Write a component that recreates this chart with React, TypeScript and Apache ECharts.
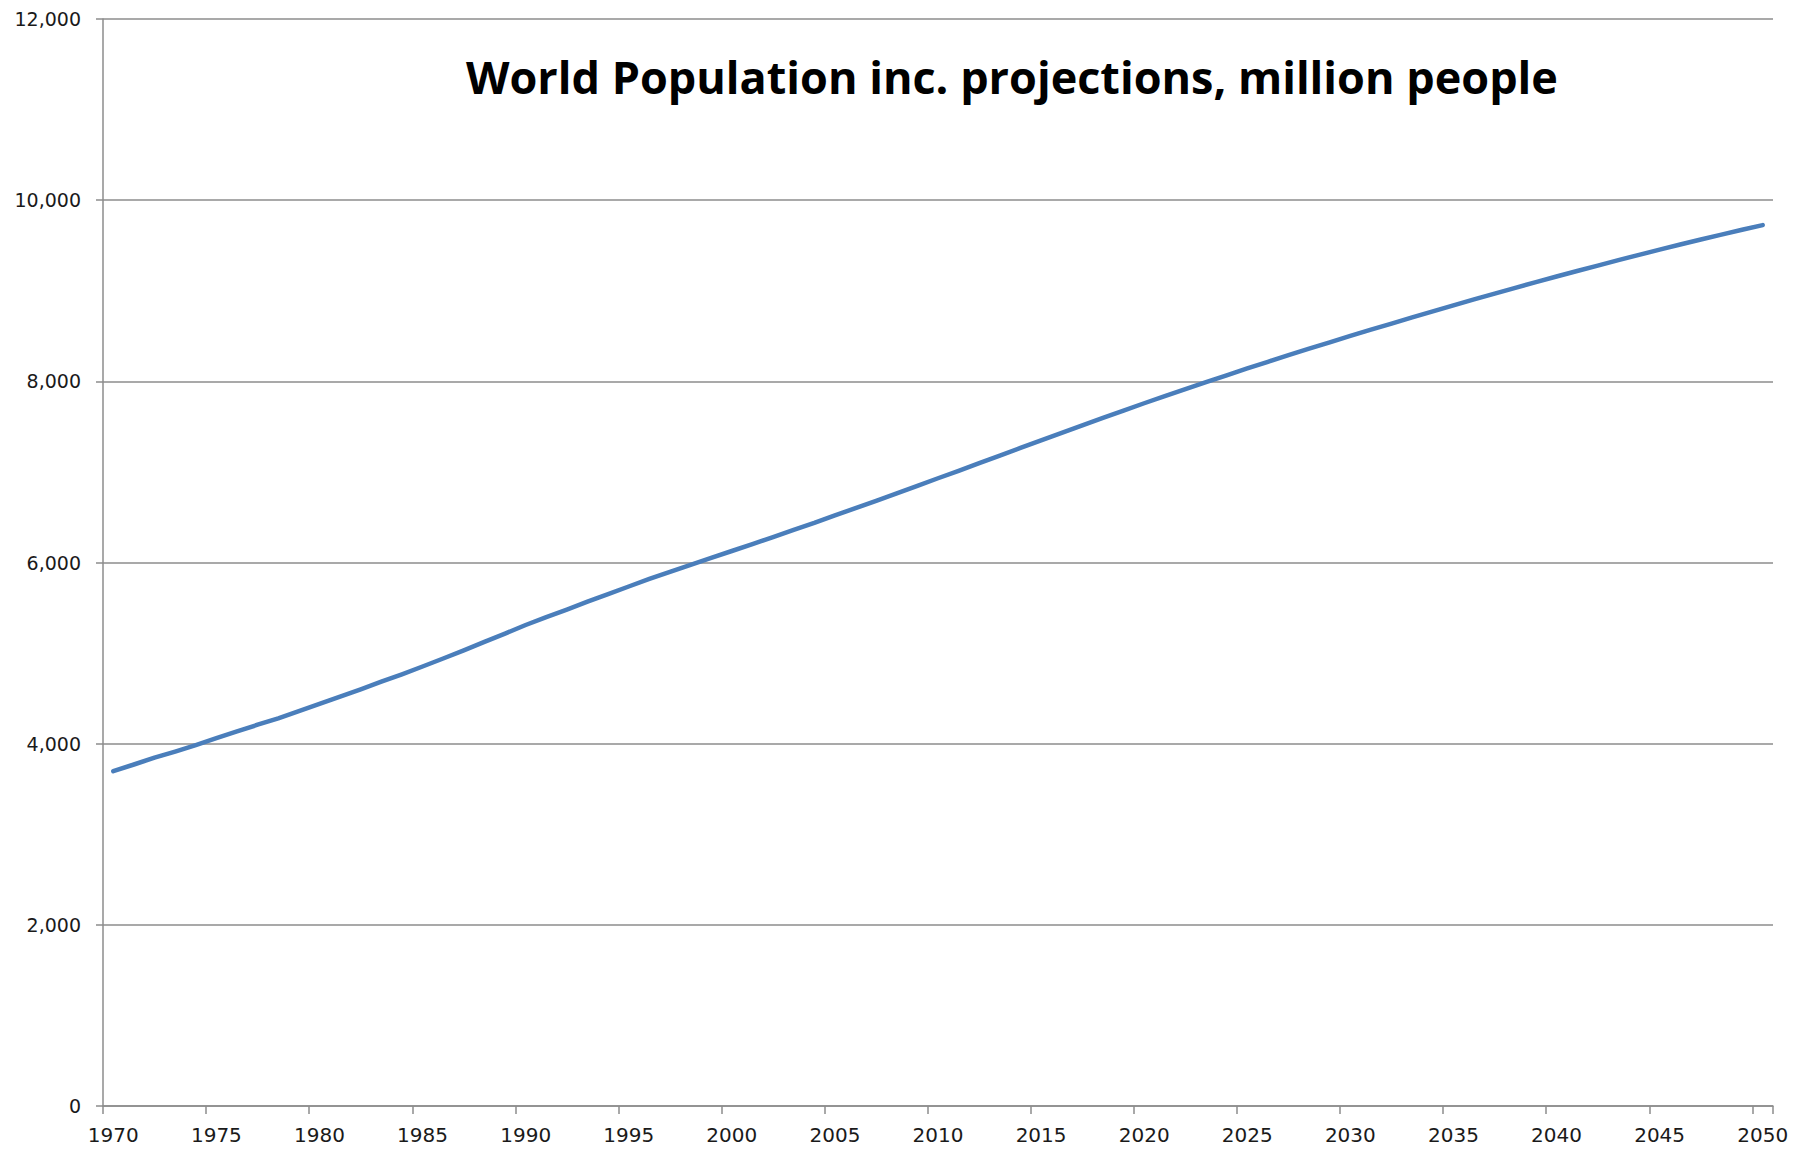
import React, { useEffect, useRef } from "react";
import * as echarts from "echarts";

const TITLE = "World Population inc. projections, million people";

const years: string[] = [
  "1970","1971","1972","1973","1974","1975","1976","1977","1978","1979",
  "1980","1981","1982","1983","1984","1985","1986","1987","1988","1989",
  "1990","1991","1992","1993","1994","1995","1996","1997","1998","1999",
  "2000","2001","2002","2003","2004","2005","2006","2007","2008","2009",
  "2010","2011","2012","2013","2014","2015","2016","2017","2018","2019",
  "2020","2021","2022","2023","2024","2025","2026","2027","2028","2029",
  "2030","2031","2032","2033","2034","2035","2036","2037","2038","2039",
  "2040","2041","2042","2043","2044","2045","2046","2047","2048","2049",
  "2050",
];

const population: number[] = [
  3696, 3770, 3845, 3913, 3985, 4061, 4135, 4209, 4280, 4358,
  4439, 4520, 4600, 4685, 4766, 4852, 4940, 5030, 5124, 5215,
  5310, 5398, 5480, 5567, 5650, 5735, 5818, 5897, 5973, 6052,
  6127, 6203, 6281, 6360, 6437, 6520, 6600, 6681, 6763, 6847,
  6930, 7012, 7096, 7180, 7265, 7349, 7432, 7515, 7596, 7677,
  7758, 7836, 7913, 7990, 8067, 8142, 8216, 8289, 8360, 8431,
  8501, 8570, 8638, 8706, 8773, 8839, 8904, 8968, 9032, 9095,
  9157, 9218, 9278, 9338, 9396, 9454, 9510, 9566, 9620, 9673,
  9725,
];

const Y_MIN = 0;
const Y_MAX = 12000;
const Y_STEP = 2000;

export default function App() {
  const ref = useRef<HTMLDivElement>(null);

  useEffect(() => {
    if (!ref.current) return;
    const chart = echarts.init(ref.current, undefined, { renderer: "svg" });
    const axisGray = "#8c8c8c";
    chart.setOption({
      animation: false,
      backgroundColor: "#ffffff",
      title: {
        text: TITLE,
        left: 461,
        top: 49,
        textStyle: {
          fontFamily: "Open Sans",
          fontWeight: "bold",
          fontSize: 45,
          color: "#000000",
        },
      },
      grid: { left: 103, right: 35, top: 19, bottom: 45, containLabel: false },
      xAxis: {
        type: "category",
        data: years,
        boundaryGap: true,
        axisLine: { show: true, lineStyle: { color: axisGray, width: 1.5 } },
        axisTick: { show: true, interval: 4, length: 8, lineStyle: { color: axisGray, width: 1.5 } },
        axisLabel: {
          interval: 4,
          fontFamily: "DejaVu Sans",
          fontSize: 20,
          color: "#1a1a1a",
          margin: 19,
        },
        splitLine: { show: false },
      },
      yAxis: {
        type: "value",
        min: Y_MIN,
        max: Y_MAX,
        interval: Y_STEP,
        axisLine: { show: true, lineStyle: { color: axisGray, width: 1.5 } },
        axisTick: { show: true, length: 7, lineStyle: { color: axisGray, width: 1.5 } },
        axisLabel: {
          fontFamily: "DejaVu Sans",
          fontSize: 19,
          color: "#1a1a1a",
          margin: 22,
          formatter: (v: number) => v.toLocaleString("en-US"),
        },
        splitLine: { show: true, lineStyle: { color: axisGray, width: 1.5 } },
      },
      series: [
        {
          type: "line",
          data: population,
          showSymbol: false,
          symbol: "none",
          smooth: false,
          lineStyle: { color: "#4a7ebb", width: 4.5, cap: "round", join: "round" },
          itemStyle: { color: "#4a7ebb" },
        },
      ],
    });
    return () => chart.dispose();
  }, []);

  return (
    <div
      ref={ref}
      style={{ position: "fixed", left: 0, top: 0, width: 1808, height: 1151, background: "#fff" }}
    />
  );
}
